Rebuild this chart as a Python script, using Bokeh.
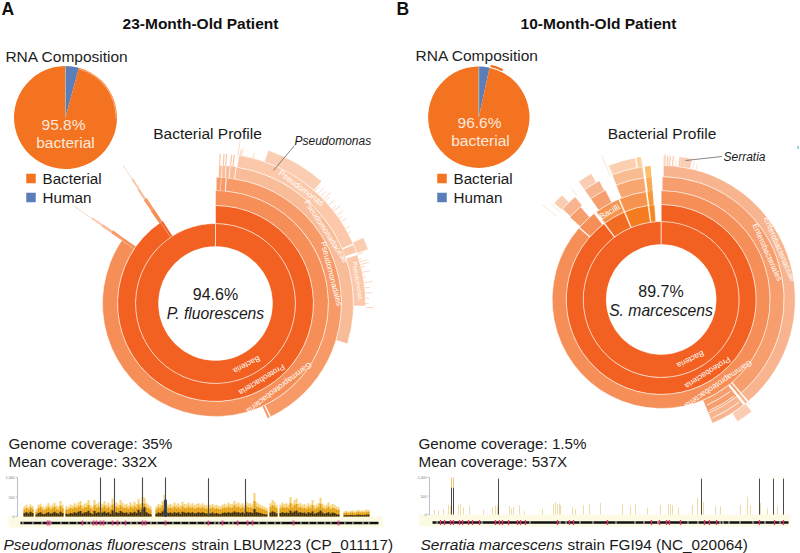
from math import pi
import numpy as np
from bokeh.plotting import figure
from bokeh.models import Range1d
from bokeh.embed import file_html
from bokeh.resources import INLINE
from bokeh.core.properties import value

W, H = 800, 553
SANS = value("Liberation Sans")

# ---- RNA composition -------------------------------------------------
rna_labels = ["Human", "Bacterial"]
rna_a = [4.2, 95.8]
rna_b = [3.4, 96.6]

# ---- Sunburst A: ring level, sweep start and stop (deg clockwise from top)
a_ring = [0, 1, 1,
          2, 2, 2,
          3, 3, 3, 3, 3, 3,
          4, 4, 4, 4, 4, 4, 4,
          5, 5, 5, 5, 5, 5, 5, 5, 5, 5,
          6, 6]
a_start = [0, 0, 326,
           0, 304, 325,
           0.5, 2.7, 5, 154.5, 304, 325.2,
           1.5, 2.9, 4.5, 6.3, 8.7, 304, 325.5,
           1.5, 3, 4, 6, 7, 9, 67, 71, 304.3, 325.8,
           19, 66]
a_stop = [360, 326, 327.4,
          304, 305.5, 327,
          2.5, 4.7, 154, 155.5, 305.5, 326.9,
          2.6, 4.2, 6, 8.5, 107, 305.2, 326.5,
          2, 3.5, 4.5, 6.5, 7.5, 66.5, 70, 91, 305, 326.6,
          41, 70.5]
a_tick_deg = [8.6, 9.4, 10, 14.5, 41.5, 43, 44.5, 46, 47, 49, 51, 52, 54, 55.5, 57, 60, 62, 71, 73, 74, 75, 76, 78, 80, 82, 84, 86, 88, 90, 91.5, 304.5, 326.2]
a_tick_len = [14, 6, 8, 5, 6, 9, 7, 11, 6, 8, 5, 9, 7, 4, 6, 5, 3, 6, 3, 8, 9, 4, 8, 3, 9, 5, 7, 4, 3, 8, 22, 16]
a_labels = ["Bacteria", "Proteobacteria", "Gammaproteobacteria", "Pseudomonadales", "Pseudomonadaceae", "Pseudomonas", "Pseudomonas"]
a_label_deg = [153, 148.7, 143, 75.6, 56.9, 36.6, 80.9]
a_label_ring = [0, 1, 2, 3, 4, 5, 5]
a_label_size = ["8px", "8px", "8px", "8px", "8px", "8.5px", "6px"]

# ---- Sunburst B ------------------------------------------------------
b_ring = [0, 1, 1, 1, 1,
          2, 2, 2, 2, 2,
          3, 3, 3, 3, 3, 3, 3,
          4, 4, 4, 4, 4, 4, 4,
          5, 5, 5, 5, 5, 5, 5, 5, 5, 5]
b_start = [0, 0, 323.5, 337.5, 352.5,
           0, 311.5, 323.5, 337.5, 352.7,
           0.5, 140, 142, 312, 325, 338.5, 352.9,
           1, 140, 142, 312.5, 325, 338.5, 352.9,
           1, 2.3, 3.4, 4.6, 7.2, 141, 312, 325, 338.5, 350]
b_stop = [360, 323, 337, 352, 356,
          311, 322, 337, 352, 355.5,
          139.4, 141, 157.5, 319, 333, 352, 355.5,
          139.4, 141, 157.5, 320, 332.5, 352, 355.5,
          1.8, 2.8, 3.9, 5.1, 12.5, 148, 316.5, 331, 349.5, 351.8]
b_tone = [0, 0, 1, 2, 3,
          0, 0, 1, 2, 3,
          0, 0, 0, 0, 0, 2, 3,
          0, 0, 0, 0, 0, 2, 3,
          0, 0, 0, 0, 0, 0, 0, 0, 2, 3]
b_tick_deg = [1.5, 3, 5, 6.2, 8, 10, 13.5, 15, 311, 308.5, 321, 337.6, 339, 352, 139.8]
b_tick_len = [12, 8, 11, 6, 10, 12, 9, 6, 12, 18, 9, 22, 8, 8, 4]
b_labels = ["Bacteria", "Proteobacteria", "Gammaproteobacteria", "Enterobacteriales", "Enterobacteriaceae", "Bacilli"]
b_label_deg = [153.8, 147.6, 146, 66, 67, 329.5]
b_label_ring = [0, 1, 2, 3, 4, 2]
b_label_size = ["8px", "8px", "8px", "8px", "8px", "8.5px"]
b_small_deg = [143, 156.5]

# ---- Coverage track A, one value per genome bin --------------------------
cov_a_peak = [260,300,240,310,270, 0,
  180,300,330,260,230,280,340,260,300,350,290,250,400,300, 0,
  260,240,310,280,340,300,360,400,280,330,350,420,300,250,
  420,320,360,300,330,390,300,350,280,460,330,360,300,420,350,300,330,280,360,300,380,320,450,340,500,480,340,300,260, 0,0,
  260,330,300,400,560,340,300,330,290,360,300,340,280,380,320,310,360,300,340,290,320,340,300,
  340,300,280,310,290,330,280,300,270,260,300,
  330,300,360,320,330,400,330,360,300,340,290,380,330,340,310,600,360,330,300,270,250,220, 0,
  340,420,380,300, 0,
  300,360,320,340,300,500,330,420,460,330,340,300,320,280,340,300,420,280,300,340,480,330,280,300,360,280,320,300,260,240, 0,0,
  130,150,120,140,160,130,150,170,140,160,150,180,170]
cov_a_core = [180,220,170,230,190, 0,
  120,210,240,180,160,200,240,180,210,250,200,170,270,210, 0,
  180,170,220,200,240,210,250,280,190,230,240,290,210,170,
  290,220,250,210,230,270,210,240,190,310,230,250,210,290,240,210,230,190,250,210,260,220,310,240,340,330,240,210,180, 0,0,
  180,230,210,280,380,240,210,230,200,250,210,240,190,260,220,210,250,210,240,200,220,240,210,
  240,210,190,210,200,230,190,210,190,180,210,
  230,210,250,220,230,280,230,250,210,240,200,260,230,240,210,400,250,230,210,190,170,150, 0,
  240,290,260,210, 0,
  210,250,220,240,210,340,230,290,320,230,240,210,220,190,240,210,290,190,210,240,330,230,190,210,250,190,220,210,180,170, 0,0,
  90,100,80,100,110,90,100,120,100,110,100,120,120]
cov_a_dark = [90,110,80,120,90, 0,
  50,90,110,70,60,90,110,70,90,120,90,70,120,90, 0,
  70,60,90,80,110,90,120,140,80,100,110,150,90,60,
  140,90,110,90,100,130,90,110,70,160,100,110,90,140,110,90,100,70,110,90,120,90,170,110,190,240,110,80,60, 0,0,
  70,100,90,130,180,110,90,100,80,110,90,110,70,120,100,90,110,90,110,80,90,110,90,
  110,90,70,90,80,100,70,90,70,60,90,
  100,90,110,90,100,130,100,110,90,110,80,120,100,110,90,190,110,100,90,70,60,50, 0,
  100,130,110,80, 0,
  90,110,90,100,90,150,100,130,150,100,110,90,100,70,110,90,130,70,90,110,150,100,70,90,110,70,100,90,60,50, 0,0,
  30,40,30,40,40,30,40,50,40,40,40,50,50]
spike_a_bin = [38, 45, 59, 70.5, 92, 110.5]
spike_a_val = [1000, 980, 1000, 1000, 980, 960]
gene_a_marks = [11.5, 12.5, 29, 34.5, 36, 38, 39.5, 44, 46.5, 50.5, 59, 60.5, 70.5, 92, 99, 106.5, 111.5, 114, 134.5, 157]
gene_a_gaps = [-1, 4, 8.5, 13, 18, 22, 26, 31, 33, 41, 48, 53, 56, 63, 66, 74, 78, 82, 86, 90, 95, 97, 102, 104, 117, 121, 125, 128, 138, 142, 146, 150, 153, 160, 164, 169, 172]

# ---- Coverage track B -----------------------------------------------------
cov_b_bin = [15, 19, 24, 29, 31, 39, 41, 44, 50, 64, 73, 76, 78, 90, 92, 94, 100, 105, 123, 134, 136, 138, 140, 141, 153, 156, 164, 170, 181, 203, 211, 216, 228, 241, 249, 251, 253, 259, 273, 278, 284, 296, 301, 321, 328, 331, 341, 348, 354, 358, 364]
cov_b_val = [130, 100, 150, 260, 230, 260, 280, 180, 220, 120, 200, 240, 230, 230, 160, 210, 250, 90, 150, 280, 340, 280, 300, 260, 200, 150, 250, 270, 320, 300, 230, 300, 180, 260, 280, 300, 260, 180, 260, 450, 330, 220, 220, 260, 480, 240, 310, 160, 220, 230, 280]
spike_b_bin = [32, 34, 79, 282, 340, 354, 364]
spike_b_val = [1000, 1000, 1000, 1000, 1000, 1000, 1000]
spike_b_dark = [720, 720, 960, 960, 960, 960, 960]
gene_b_marks = [21, 25, 31, 34, 40, 43, 49, 53, 60, 76, 80, 83, 89, 98, 101, 106, 138, 150, 154, 188, 232, 240, 247, 250, 261, 285, 290, 297, 340, 355, 364]
gene_b_gaps = [17, 62, 110, 140, 146, 160, 173, 196, 215, 224, 238, 268, 278, 300, 303, 309, 320, 333, 345, 360]

# ---- Layout helpers ---------------------------------------------------
def Y(py):
    return H - py

def rad(theta):
    return np.radians(theta)

p = figure(width=W, height=H, x_range=Range1d(0, W), y_range=Range1d(0, H),
           x_axis_type=None, y_axis_type=None, toolbar_location=None,
           output_backend="svg", min_border=0, outline_line_color=None,
           background_fill_color="white", border_fill_color="white",
           styles={"position": "absolute", "left": "0px", "top": "0px"})
p.grid.visible = False

def label(x, y, s, size, color="#1a1a1a", align="left", style="normal", angle=0.0):
    p.text([x], [Y(y)], text=[s], text_font=SANS, text_font_size=size, text_color=color,
           text_align=align, text_baseline="alphabetic", text_font_style=style, angle=angle)

# ---- Pies ---------------------------------------------------------------
ORANGE, BLUE = "#F47321", "#5B7DB8"

def pie(cx, cy, r, vals):
    edges = np.cumsum([0] + vals) * 3.6
    p.wedge([cx, cx], [Y(cy)] * 2, radius=r,
            start_angle=[pi / 2 - rad(edges[1]), pi / 2 - rad(edges[2])],
            end_angle=[pi / 2 - rad(edges[0]), pi / 2 - rad(edges[1])],
            fill_color=[BLUE, ORANGE], line_color=None)
    p.segment([cx], [Y(cy)], [cx], [Y(cy - r)], line_color="#B9B2A8", line_width=1)

pie(65, 117, 51.5, rna_a)
p.arc([65], [Y(117)], radius=50.6, start_angle=pi / 2 - rad(91), end_angle=pi / 2 - rad(16), line_color="#FBD0B0", line_width=0.7)
pie(478.3, 116.7, 50.7, rna_b)
p.arc([478.3], [Y(116.7)], radius=52.5, start_angle=pi / 2 - rad(27), end_angle=pi / 2 - rad(13), line_color=ORANGE, line_width=2.5)
p.arc([478.3], [Y(116.7)], radius=51, start_angle=pi / 2 - rad(27), end_angle=pi / 2 - rad(13), line_color="white", line_width=0.8)

label(66.5, 56, "RNA Composition", "15.5px", "#222222", "center")
label(476.7, 55, "RNA Composition", "15.5px", "#222222", "center")
label(63, 124, "95.8%", "15.5px", "#FCE9DC", "center")
label(65, 142, "bacterial", "15.5px", "#FCE9DC", "center")
label(479, 122, "96.6%", "15.5px", "#FCE9DC", "center")
label(480, 140, "bacterial", "15.5px", "#FCE9DC", "center")

for sx, tx, (c1, c2) in [(30.5, 42, (ORANGE, BLUE)), (441.5, 453, (ORANGE, BLUE))]:
    p.rect([sx, sx], [Y(178), Y(197)], width=9.5, height=9.5, fill_color=[c1, c2], line_color=None)
    label(tx, 178, rna_labels[1], "15.2px")
    label(tx, 197, rna_labels[0], "15.2px")

# ---- Sunbursts -----------------------------------------------------------
R_A = [57, 80, 98, 113, 126, 138, 150, 162]
R_B = [55, 78, 95, 109, 123, 134, 144, 154]
PAL_A = ["#F26122", "#F26122", "#F58E57", "#F79A68", "#F9BC99", "#FBC8AA", "#FBCEB4"]
PALS_B = [["#F26122", "#F26122", "#F58E57", "#F69E6E", "#F8B48E", "#FACDB3"],
          ["#F26122", "#F26B22", "#F5934F", "#F69E6E", "#F8B48E", "#FACDB3"],
          ["#F26122", "#F47B20", "#F5934F", "#F7A670", "#F9BB90", "#FBCFB0"],
          ["#F26122", "#F6861F", "#F69A3A", "#F8A955", "#FAC070", "#FBD09A"]]

def sunburst(cx, cy, radii, rings, starts, stops, colors):
    rings = np.array(rings)
    starts, stops = np.array(starts, float), np.array(stops, float)
    # hairline slivers keep their fill: only wide slices get a white edge
    edge = [1.0 if s > 3 else 0.0 for s in (stops - starts)]
    p.annular_wedge([cx] * len(rings), [Y(cy)] * len(rings),
                    inner_radius=[radii[i] for i in rings],
                    outer_radius=[radii[i + 1] for i in rings],
                    start_angle=pi / 2 - rad(stops),
                    end_angle=pi / 2 - rad(starts),
                    fill_color=colors, line_color="white", line_alpha=edge, line_width=0.5)

def ticks(cx, cy, r0, degs, lens, color):
    t = rad(np.array(degs, float))
    ln = np.array(lens, float)
    p.segment(cx + r0 * np.sin(t), Y(cy) + r0 * np.cos(t), cx + (r0 + ln) * np.sin(t), Y(cy) + (r0 + ln) * np.cos(t),
              line_color=color, line_width=0.8)

def ring_labels(cx, cy, radii, names, degs, rs, sizes):
    for n, d, r, s in zip(names, degs, rs, sizes):
        mid = (radii[r] + radii[r + 1]) / 2
        t = rad(d)
        p.text([cx + mid * np.sin(t)], [Y(cy) + mid * np.cos(t)], text=[n], angle=-t,
               text_font=SANS, text_font_size=s, text_color="white", text_align="center", text_baseline="middle")

CA, CB = (215, 303), (660.7, 299)
sunburst(*CA, R_A, a_ring, a_start, a_stop, [PAL_A[i] for i in a_ring])
ticks(*CA, 150, a_tick_deg, a_tick_len, "#FBCFB6")
ring_labels(*CA, R_A, a_labels, a_label_deg, a_label_ring, a_label_size)

sunburst(*CB, R_B, b_ring, b_start, b_stop, [PALS_B[t][i] for i, t in zip(b_ring, b_tone)])
ticks(*CB, 134, b_tick_deg, b_tick_len, "#FBDCCB")
ring_labels(*CB, R_B, b_labels, b_label_deg, b_label_ring, b_label_size)
for r in (115, 121, 129):
    p.arc([CB[0]], [Y(CB[1])], radius=r, start_angle=pi / 2 - rad(b_small_deg[1]), end_angle=pi / 2 - rad(b_small_deg[0]),
          line_color="white", line_width=1, line_alpha=0.85)

label(215, 294, "94.6%", "16px", align="center")
label(215, 313, "P. fluorescens", "15.7px", align="center", style="italic")
label(660.5, 291, "89.7%", "16px", align="center")
label(660.5, 310, "S. marcescens", "15.7px", align="center", style="italic")

label(207, 133, "Bacterial Profile", "15.5px", align="center")
label(661.5, 133, "Bacterial Profile", "15.5px", align="center")
label(294, 140, "Pseudomonas", "12px", style="italic")
label(723, 156, "Serratia", "12px", style="italic")
p.segment([294], [Y(145)], [273], [Y(170)], line_color="#555555", line_width=0.7)
p.segment([721.5], [Y(156)], [685], [Y(160)], line_color="#555555", line_width=0.7)

# ---- Titles ---------------------------------------------------------------
label(1, 8, "A", "17.5px", "#111111", style="bold")
label(396, 8, "B", "17.5px", "#111111", style="bold")
label(200, 23, "23-Month-Old Patient", "15.5px", "#111111", "center", "bold")
label(598, 23, "10-Month-Old Patient", "15.5px", "#111111", "center", "bold")
p.rect([797.5], [Y(147)], width=1.5, height=3, fill_color="#7FC4D8", line_color=None)

# ---- Coverage tracks -------------------------------------------------------
px_per_unit_a, px_per_unit_b = 39 / 1000, 37 / 1000
ya0 = -Y(516) / px_per_unit_a
yb0 = -Y(514) / px_per_unit_b
p.extra_x_ranges["ax"] = Range1d(-12, 388)
p.extra_y_ranges["ay"] = Range1d(ya0, ya0 + H / px_per_unit_a)
p.extra_x_ranges["bx"] = Range1d(-419, 381)
p.extra_y_ranges["by"] = Range1d(yb0, yb0 + H / px_per_unit_b)

# pale bands under the tracks
p.quad(left=[8, 419], right=[382, 790], bottom=[Y(527), Y(526)], top=[Y(516), Y(514)], fill_color="#FCFAE3", line_color=None)

A = dict(x_range_name="ax", y_range_name="ay")
bins_a = np.arange(len(cov_a_peak))
p.vbar(bins_a, top=cov_a_peak, width=1, fill_color="#F6D27A", line_color=None, **A)
p.vbar(bins_a, top=cov_a_core, width=1, fill_color="#E5A012", line_color=None, **A)
p.vbar(bins_a, top=cov_a_dark, width=1, fill_color="#2B2214", line_color=None, fill_alpha=0.9, **A)
p.vbar(spike_a_bin, top=spike_a_val, width=0.55, fill_color="#4A4A4A", line_color=None, **A)
p.vbar([70.5], top=[430], width=1.4, fill_color="#2D3B52", line_color=None, **A)

B = dict(x_range_name="bx", y_range_name="by")
p.vbar(cov_b_bin, top=cov_b_val, width=0.9, fill_color="#E8CF86", line_color=None, fill_alpha=0.8, **B)
p.vbar(spike_b_bin, top=spike_b_val, width=1, fill_color="#E8C878", line_color=None, **B)
p.vbar(spike_b_bin, top=spike_b_dark, width=0.9, fill_color="#3C3C3C", line_color=None, **B)

# axis brackets
for xa, rng in [(17, "ay"), (429, "by")]:
    p.segment([xa, xa, xa, xa], [0, 1000, 500, 0], [xa, xa - 2, xa - 2, xa - 2], [1000, 1000, 500, 0],
              line_color="#A9AFC0", line_width=0.8, y_range_name=rng)
    for v, s in [(1000, "1,000"), (500, "500"), (0, "0")]:
        p.text([xa - 3], [v], text=[s], text_font=SANS, text_font_size="3.5px", text_color="#777777",
               text_align="right", text_baseline="middle", y_range_name=rng)

# gene tracks
gy_a, gy_b = Y(522.5), Y(522)
p.segment([-2], [gy_a], [177], [gy_a], line_color="#111111", line_width=2.6, x_range_name="ax")
p.segment(gene_a_gaps, [gy_a] * len(gene_a_gaps), np.array(gene_a_gaps) + 0.45, [gy_a] * len(gene_a_gaps),
          line_color="#F4F2D8", line_width=2.6, x_range_name="ax")
p.rect(gene_a_marks, [gy_a] * len(gene_a_marks), width=0.9, height=5, fill_color="#E0408F", line_color=None, fill_alpha=0.85, x_range_name="ax")
p.segment([13], [gy_b], [369], [gy_b], line_color="#111111", line_width=2.6, x_range_name="bx")
p.segment(gene_b_gaps, [gy_b] * len(gene_b_gaps), np.array(gene_b_gaps) + 1, [gy_b] * len(gene_b_gaps),
          line_color="#F4F2D8", line_width=2.6, x_range_name="bx")
p.rect(gene_b_marks, [gy_b] * len(gene_b_marks), width=1.3, height=5, fill_color="#E8306F", line_color=None, x_range_name="bx")

label(8, 443, "Genome coverage: 35%", "15.2px")
label(8, 461, "Mean coverage: 332X", "15.2px")
label(418, 443, "Genome coverage: 1.5%", "15.2px")
label(418, 461, "Mean coverage: 537X", "15.2px")
label(3, 543.5, "Pseudomonas fluorescens", "15.5px", style="italic")
label(191, 543.5, "strain LBUM223 (CP_011117)", "15.3px")
label(420, 543.5, "Serratia marcescens", "15.5px", style="italic")
label(567, 543.5, "strain FGI94 (NC_020064)", "15.3px")

open("out.html", "w").write(file_html(p, INLINE))
